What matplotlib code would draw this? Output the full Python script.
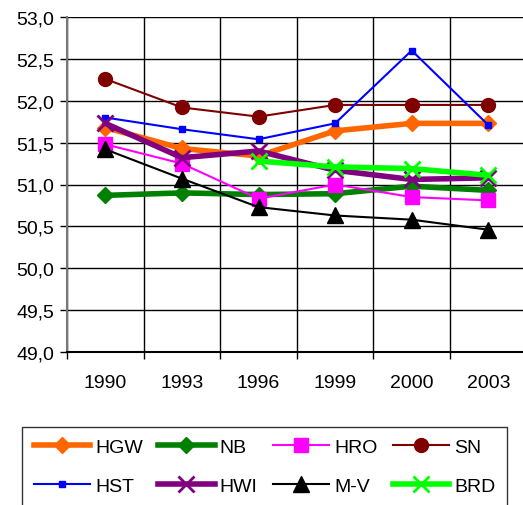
import matplotlib.pyplot as plt
import numpy as np
from matplotlib.ticker import FixedLocator, FuncFormatter

plt.rcParams.update({"font.family": ["Liberation Sans", "DejaVu Sans"], "font.size": 14})

years = ["1990", "1993", "1996", "1999", "2000", "2003"]

hgw = [51.68, 51.43, 51.34, 51.64, 51.73, 51.73]
nb = [50.87, 50.90, 50.88, 50.89, 50.98, 50.93]
hro = [51.48, 51.25, 50.83, 51.00, 50.85, 50.81]
sn = [52.26, 51.92, 51.81, 51.95, 51.95, 51.95]
hst = [51.80, 51.66, 51.54, 51.73, 52.60, 51.71]
hwi = [51.73, 51.32, 51.40, 51.17, 51.06, 51.08]
mv = [51.42, 51.07, 50.73, 50.63, 50.58, 50.46]
brd = [np.nan, np.nan, 51.28, 51.21, 51.19, 51.11]

# label, values, colour, line width, marker, marker size
series = [
    ("HGW", hgw, "#FF6600", 4.0, "D", 8),
    ("NB", nb, "#008000", 4.0, "D", 8),
    ("HRO", hro, "#FF00FF", 1.5, "s", 10),
    ("SN", sn, "#800000", 1.5, "o", 10),
    ("HST", hst, "#0000FF", 1.5, "s", 5),
    ("HWI", hwi, "#800080", 4.0, "x", 11),
    ("M-V", mv, "#000000", 1.5, "^", 11),
    ("BRD", brd, "#00FF00", 4.0, "x", 11),
]

fig = plt.figure(figsize=(5.23, 5.06), dpi=100)
ax = fig.add_axes([67 / 523, 1 - 353 / 506, 1 - 67 / 523, 335 / 506])

x = np.arange(len(years))
lines = {}
for name, vals, col, lw, mk, ms in series:
    lines[name], = ax.plot(x, vals, color=col, lw=lw, marker=mk, ms=ms,
                           mew=2 if mk == "x" else 1, mec=col, mfc=col,
                           label=name, clip_on=False)

ax.set_ylim(49.0, 53.0)
ax.set_yticks(np.arange(49.0, 53.01, 0.5))
ax.yaxis.set_major_formatter(FuncFormatter(lambda v, _: f"{v:.1f}".replace(".", ",")))
ax.set_xlim(-0.5, -0.5 + (523 - 67) / 76.6)
ax.set_xticks(x)
ax.set_xticklabels(years)
ax.xaxis.set_minor_locator(FixedLocator(np.arange(-0.5, 6.0, 1.0)))
ax.tick_params(axis="x", which="major", length=0, pad=16)
ax.tick_params(axis="x", which="minor", length=5, width=1, color="black")
ax.tick_params(axis="y", length=5, width=1, pad=4)
ax.grid(axis="y", color="black", lw=1)
ax.grid(axis="x", which="minor", color="black", lw=1)
ax.set_axisbelow(True)
for s in ("top", "right"):
    ax.spines[s].set_visible(False)
ax.spines["left"].set_color("#777777")
ax.spines["left"].set_linewidth(1.5)
ax.spines["bottom"].set_color("black")
ax.spines["bottom"].set_linewidth(1.5)

# legend fills by column, so interleave to get two rows of four
order = ["HGW", "HST", "NB", "HWI", "HRO", "M-V", "SN", "BRD"]
leg = fig.legend([lines[n] for n in order], order, loc="upper left",
                 bbox_to_anchor=(22 / 523, 1 - 428 / 506), borderaxespad=0, ncol=4,
                 frameon=True, fancybox=False, edgecolor="black", fontsize=14,
                 handlelength=2.9, columnspacing=0.8, handletextpad=0.25,
                 labelspacing=1.1, borderpad=0.6)
leg.get_frame().set_linewidth(1)

fig.savefig("out.png", dpi=100)
